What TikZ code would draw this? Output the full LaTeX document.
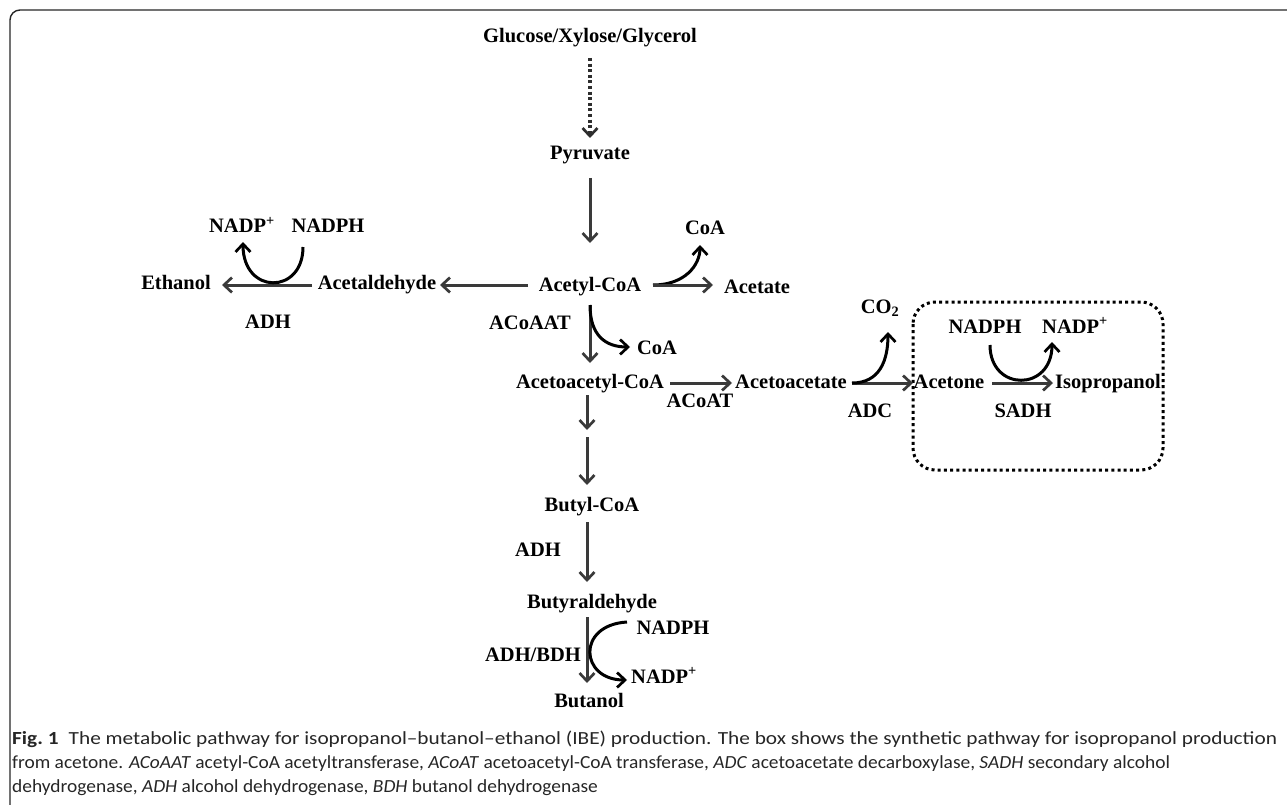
\documentclass[tikz,border=0pt]{standalone}
\usepackage{fontspec}
\setmainfont{Liberation Serif}
\newfontfamily\capfont[FakeStretch=1.05]{Carlito}
\usetikzlibrary{arrows.meta}
\definecolor{arrgray}{HTML}{3A3A3A}
\begin{document}
\begin{tikzpicture}[x=1pt,y=-1pt,
  lbl/.style={font=\fontsize{20.5}{22}\selectfont\bfseries, inner sep=0pt, text height=14pt, text depth=4pt, anchor=center},
  arrtip/.style={-{Straight Barb[length=8pt,width=15pt,line width=2.7pt]}},
  arr/.style={draw=arrgray, line width=3pt, arrtip},
  curv/.style={draw=black, line width=3pt, arrtip},
  dotarr/.style={draw=arrgray!80!black, line width=3.2pt, dash pattern=on 3pt off 2.6pt, -{Straight Barb[length=8pt,width=15pt,line width=2.7pt]}},
  captxt/.style={font=\capfont\fontsize{18.5}{21}\selectfont, inner sep=0pt, anchor=base west, text=black!85}
]
\useasboundingbox (0,0) rectangle (1287,805);
% frame
\draw[line width=1.4pt, black!85, rounded corners=10pt] (10,805) -- (10,10) -- (1287,10);

% nodes
\node[lbl] (glc) at (590,38) {Glucose/Xylose/Glycerol};
\node[lbl] (pyr) at (590,155) {Pyruvate};
\node[lbl] (acoa) at (590,286) {Acetyl-CoA};
\node[lbl] (coa1) at (705,229) {CoA};
\node[lbl] (acetate) at (757,288) {Acetate};
\node[lbl] (acald) at (377,284) {Acetaldehyde};
\node[lbl] (ethanol) at (176,284) {Ethanol};
\node[lbl] (nadp1) at (242,228) {NADP\textsuperscript{+}};
\node[lbl] (nadph1) at (328,228) {NADPH};
\node[lbl] (adh1) at (268,323) {ADH};
\node[lbl] (acoaat) at (530,324) {ACoAAT};
\node[lbl] (coa2) at (657,349) {CoA};
\node[lbl] (aacoa) at (590,383) {Acetoacetyl-CoA};
\node[lbl] (aacet) at (791,383) {Acetoacetate};
\node[lbl] (acoat) at (700,402) {ACoAT};
\node[lbl] (co2) at (880,308) {CO\textsubscript{2}};
\node[lbl] (adc) at (870,412) {ADC};
\node[lbl] (acetone) at (949,383) {Acetone};
\node[lbl] (isoprop) at (1108,383) {Isopropanol};
\node[lbl] (nadph2) at (985,328) {NADPH};
\node[lbl] (nadp2) at (1075,328) {NADP\textsuperscript{+}};
\node[lbl] (sadh) at (1023,412) {SADH};
\node[lbl] (butcoa) at (592,506) {Butyl-CoA};
\node[lbl] (adh2) at (538,551) {ADH};
\node[lbl] (butald) at (592,603) {Butyraldehyde};
\node[lbl] (nadph3) at (673,629) {NADPH};
\node[lbl] (nadp3) at (664,678) {NADP\textsuperscript{+}};
\node[lbl] (adhbdh) at (533,656) {ADH/BDH};
\node[lbl] (butanol) at (589,702) {Butanol};

% box
\draw[line width=3pt, black, dash pattern=on 3pt off 3.2pt, rounded corners=22pt] (913,302) rectangle (1163,470);

% connectors
\draw[dotarr] ([yshift=-20pt]glc.center) -- ([yshift=17pt]pyr.center);
\draw[arr] ([yshift=-23pt]pyr.center) -- ([yshift=43pt]acoa.center);
\draw[arr] ([xshift=-62pt,yshift=1pt]acoa.center) -- ([xshift=63pt,yshift=-1pt]acald.center);
\draw[arr] ([xshift=-65pt,yshift=-1pt]acald.center) -- ([xshift=46pt,yshift=-1pt]ethanol.center);
\draw[curv] ([xshift=-25pt,yshift=-19pt]nadph1.center) .. controls (303,295) and (243,295) .. ([xshift=1pt,yshift=-14pt]nadp1.center);
\draw[curv] ([xshift=63pt,yshift=1pt]acoa.center) .. controls (685,285) and (700,265) .. ([xshift=-5pt,yshift=-16pt]coa1.center);
\draw[arr] ([xshift=63pt,yshift=1pt]acoa.center) -- ([xshift=-44pt,yshift=3pt]acetate.center);
\draw[arr] ([yshift=-19pt]acoa.center) -- ([yshift=20pt]aacoa.center);
\draw[curv] ([yshift=-19pt]acoa.center) .. controls (590,335) and (605,347) .. ([xshift=-27pt,yshift=2pt]coa2.center);
\draw[arr] ([xshift=80pt]aacoa.center) -- ([xshift=-59pt]aacet.center);
\draw[arr] ([xshift=61pt]aacet.center) -- ([xshift=-36pt]acetone.center);
\draw[curv] ([xshift=61pt]aacet.center) .. controls (880,383) and (888,360) .. ([xshift=8pt,yshift=-24pt]co2.center);
\draw[arr] ([xshift=43pt]acetone.center) -- ([xshift=-55pt]isoprop.center);
\draw[curv] ([xshift=5pt,yshift=-17pt]nadph2.center) .. controls (990,392) and (1052,392) .. ([xshift=-23pt,yshift=-14pt]nadp2.center);
\coordinate (gap1) at (587,430);
\coordinate (gap2) at (587,437);
\draw[arr] ([xshift=-3pt,yshift=-12pt]aacoa.center) -- (gap1);
\draw[arr] (gap2) -- ([xshift=-5pt,yshift=21pt]butcoa.center);
\draw[arr] ([xshift=-5pt,yshift=-16pt]butcoa.center) -- ([xshift=-5pt,yshift=21pt]butald.center);
\draw[arr] ([xshift=-5pt,yshift=-14pt]butald.center) -- ([xshift=-2pt,yshift=19pt]butanol.center);
\draw[curv] ([xshift=-46pt,yshift=7pt]nadph3.center) .. controls (576,625) and (580,680) .. ([xshift=-37pt,yshift=-2pt]nadp3.center);

% caption
\node[captxt] (cap1) at (12,744) {\resizebox{1265pt}{\height}{\textbf{Fig.~1}\hspace{0.5em}The metabolic pathway for isopropanol–butanol–ethanol (IBE) production. The box shows the synthetic pathway for isopropanol production}};
\node[captxt] (cap2) at (12,768) {from acetone. \textit{ACoAAT} acetyl-CoA acetyltransferase, \textit{ACoAT} acetoacetyl-CoA transferase, \textit{ADC} acetoacetate decarboxylase, \textit{SADH} secondary alcohol};
\node[captxt] (cap3) at (12,792) {dehydrogenase, \textit{ADH} alcohol dehydrogenase, \textit{BDH} butanol dehydrogenase};
\end{tikzpicture}
\end{document}
